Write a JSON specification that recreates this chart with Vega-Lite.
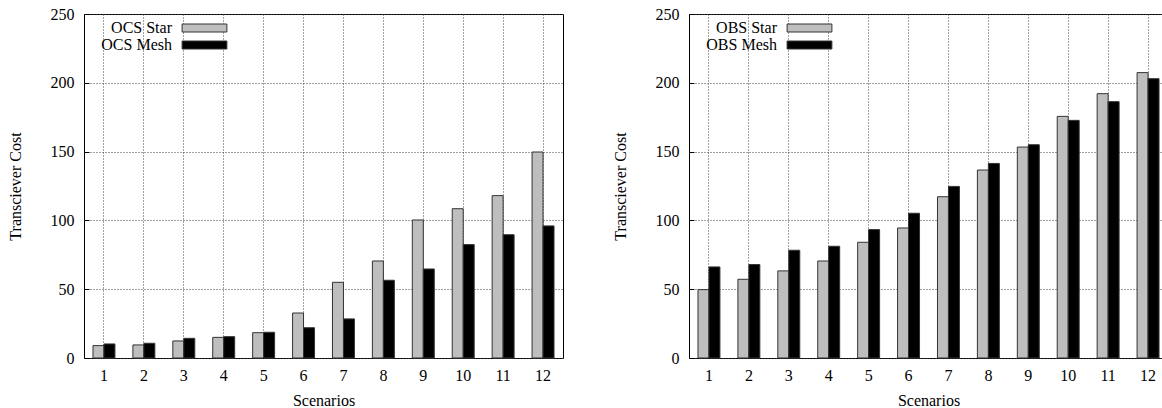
{
  "$schema": "https://vega.github.io/schema/vega-lite/v6.json",
  "padding": {"left": 6, "top": 5, "right": 0, "bottom": 0},
  "background": "white",
  "config": {
    "font": "Liberation Serif",
    "view": {"stroke": "#000", "strokeWidth": 1},
    "axis": {
      "labelFont": "Liberation Serif", "labelFontSize": 16, "labelColor": "#000",
      "titleFont": "Liberation Serif", "titleFontSize": 16, "titleFontWeight": "normal", "titleColor": "#000",
      "domain": false, "ticks": true, "tickSize": -5, "tickColor": "#000", "tickWidth": 1,
      "gridColor": "#444", "gridDash": [1, 2], "gridWidth": 1, "gridOpacity": 1
    },
    "legend": {
      "labelFont": "Liberation Serif", "labelFontSize": 16, "labelColor": "#000"
    }
  },
  "datasets": {
    "ocs": [
      {"scenario": 1, "series": "OCS Star", "cost": 9.0},
      {"scenario": 1, "series": "OCS Mesh", "cost": 10.2},
      {"scenario": 2, "series": "OCS Star", "cost": 9.5},
      {"scenario": 2, "series": "OCS Mesh", "cost": 10.7},
      {"scenario": 3, "series": "OCS Star", "cost": 12.4},
      {"scenario": 3, "series": "OCS Mesh", "cost": 14.3},
      {"scenario": 4, "series": "OCS Star", "cost": 15.0},
      {"scenario": 4, "series": "OCS Mesh", "cost": 15.5},
      {"scenario": 5, "series": "OCS Star", "cost": 18.4},
      {"scenario": 5, "series": "OCS Mesh", "cost": 18.7},
      {"scenario": 6, "series": "OCS Star", "cost": 32.7},
      {"scenario": 6, "series": "OCS Mesh", "cost": 22.0},
      {"scenario": 7, "series": "OCS Star", "cost": 55.0},
      {"scenario": 7, "series": "OCS Mesh", "cost": 28.4},
      {"scenario": 8, "series": "OCS Star", "cost": 70.5},
      {"scenario": 8, "series": "OCS Mesh", "cost": 56.5},
      {"scenario": 9, "series": "OCS Star", "cost": 100.3},
      {"scenario": 9, "series": "OCS Mesh", "cost": 64.7},
      {"scenario": 10, "series": "OCS Star", "cost": 108.5},
      {"scenario": 10, "series": "OCS Mesh", "cost": 82.4},
      {"scenario": 11, "series": "OCS Star", "cost": 118.0},
      {"scenario": 11, "series": "OCS Mesh", "cost": 89.6},
      {"scenario": 12, "series": "OCS Star", "cost": 149.7},
      {"scenario": 12, "series": "OCS Mesh", "cost": 96.0}
    ],
    "obs": [
      {"scenario": 1, "series": "OBS Star", "cost": 49.7},
      {"scenario": 1, "series": "OBS Mesh", "cost": 66.2},
      {"scenario": 2, "series": "OBS Star", "cost": 57.2},
      {"scenario": 2, "series": "OBS Mesh", "cost": 67.9},
      {"scenario": 3, "series": "OBS Star", "cost": 63.3},
      {"scenario": 3, "series": "OBS Mesh", "cost": 78.3},
      {"scenario": 4, "series": "OBS Star", "cost": 70.5},
      {"scenario": 4, "series": "OBS Mesh", "cost": 81.2},
      {"scenario": 5, "series": "OBS Star", "cost": 84.1},
      {"scenario": 5, "series": "OBS Mesh", "cost": 93.3},
      {"scenario": 6, "series": "OBS Star", "cost": 94.5},
      {"scenario": 6, "series": "OBS Mesh", "cost": 105.2},
      {"scenario": 7, "series": "OBS Star", "cost": 117.2},
      {"scenario": 7, "series": "OBS Mesh", "cost": 124.7},
      {"scenario": 8, "series": "OBS Star", "cost": 136.6},
      {"scenario": 8, "series": "OBS Mesh", "cost": 141.4},
      {"scenario": 9, "series": "OBS Star", "cost": 153.3},
      {"scenario": 9, "series": "OBS Mesh", "cost": 155.0},
      {"scenario": 10, "series": "OBS Star", "cost": 175.6},
      {"scenario": 10, "series": "OBS Mesh", "cost": 172.7},
      {"scenario": 11, "series": "OBS Star", "cost": 192.1},
      {"scenario": 11, "series": "OBS Mesh", "cost": 186.3},
      {"scenario": 12, "series": "OBS Star", "cost": 207.4},
      {"scenario": 12, "series": "OBS Mesh", "cost": 203.0}
    ]
  },
  "spacing": 47,
  "resolve": {"scale": {"color": "independent", "x": "independent", "y": "independent", "xOffset": "independent"}, "legend": {"color": "independent"}},
  "hconcat": [
    {
      "width": 479, "height": 344,
      "data": {"name": "ocs"},
      "mark": {"type": "bar", "stroke": "#333", "strokeWidth": 1},
      "encoding": {
        "x": {"field": "scenario", "type": "ordinal", "scale": {"paddingInner": 0.45, "paddingOuter": 0.225},
              "axis": {"title": "Scenarios", "labelAngle": 0, "grid": true, "bandPosition": 0.5, "labelPadding": 14, "titlePadding": 9}},
        "xOffset": {"field": "series", "type": "nominal", "sort": ["OCS Star", "OCS Mesh"], "scale": {"paddingInner": 0, "paddingOuter": 0}},
        "y": {"field": "cost", "type": "quantitative", "scale": {"domain": [0, 250], "nice": false},
              "axis": {"title": "Transciever Cost", "values": [0, 50, 100, 150, 200, 250], "grid": true, "labelPadding": 15, "titlePadding": 27}},
        "color": {"field": "series", "type": "nominal", "sort": ["OCS Star", "OCS Mesh"],
                  "scale": {"domain": ["OCS Star", "OCS Mesh"], "range": ["#bebebe", "#000000"]},
                  "legend": {"orient": "none", "legendX": 112, "legendY": 5.5, "direction": "vertical", "title": null,
                             "symbolType": "M-2.8,-0.5H2.8V0.5H-2.8Z", "symbolSize": 256, "symbolStrokeColor": "#333", "symbolStrokeWidth": 1,
                             "labelAlign": "right", "labelOffset": -41, "rowPadding": 0}}
      }
    },
    {
      "width": 479, "height": 344,
      "data": {"name": "obs"},
      "mark": {"type": "bar", "stroke": "#333", "strokeWidth": 1},
      "encoding": {
        "x": {"field": "scenario", "type": "ordinal", "scale": {"paddingInner": 0.45, "paddingOuter": 0.225},
              "axis": {"title": "Scenarios", "labelAngle": 0, "grid": true, "bandPosition": 0.5, "labelPadding": 14, "titlePadding": 9}},
        "xOffset": {"field": "series", "type": "nominal", "sort": ["OBS Star", "OBS Mesh"], "scale": {"paddingInner": 0, "paddingOuter": 0}},
        "y": {"field": "cost", "type": "quantitative", "scale": {"domain": [0, 250], "nice": false},
              "axis": {"title": "Transciever Cost", "values": [0, 50, 100, 150, 200, 250], "grid": true, "labelPadding": 15, "titlePadding": 27}},
        "color": {"field": "series", "type": "nominal", "sort": ["OBS Star", "OBS Mesh"],
                  "scale": {"domain": ["OBS Star", "OBS Mesh"], "range": ["#bebebe", "#000000"]},
                  "legend": {"orient": "none", "legendX": 112, "legendY": 5.5, "direction": "vertical", "title": null,
                             "symbolType": "M-2.8,-0.5H2.8V0.5H-2.8Z", "symbolSize": 256, "symbolStrokeColor": "#333", "symbolStrokeWidth": 1,
                             "labelAlign": "right", "labelOffset": -41, "rowPadding": 0}}
      }
    }
  ]
}
